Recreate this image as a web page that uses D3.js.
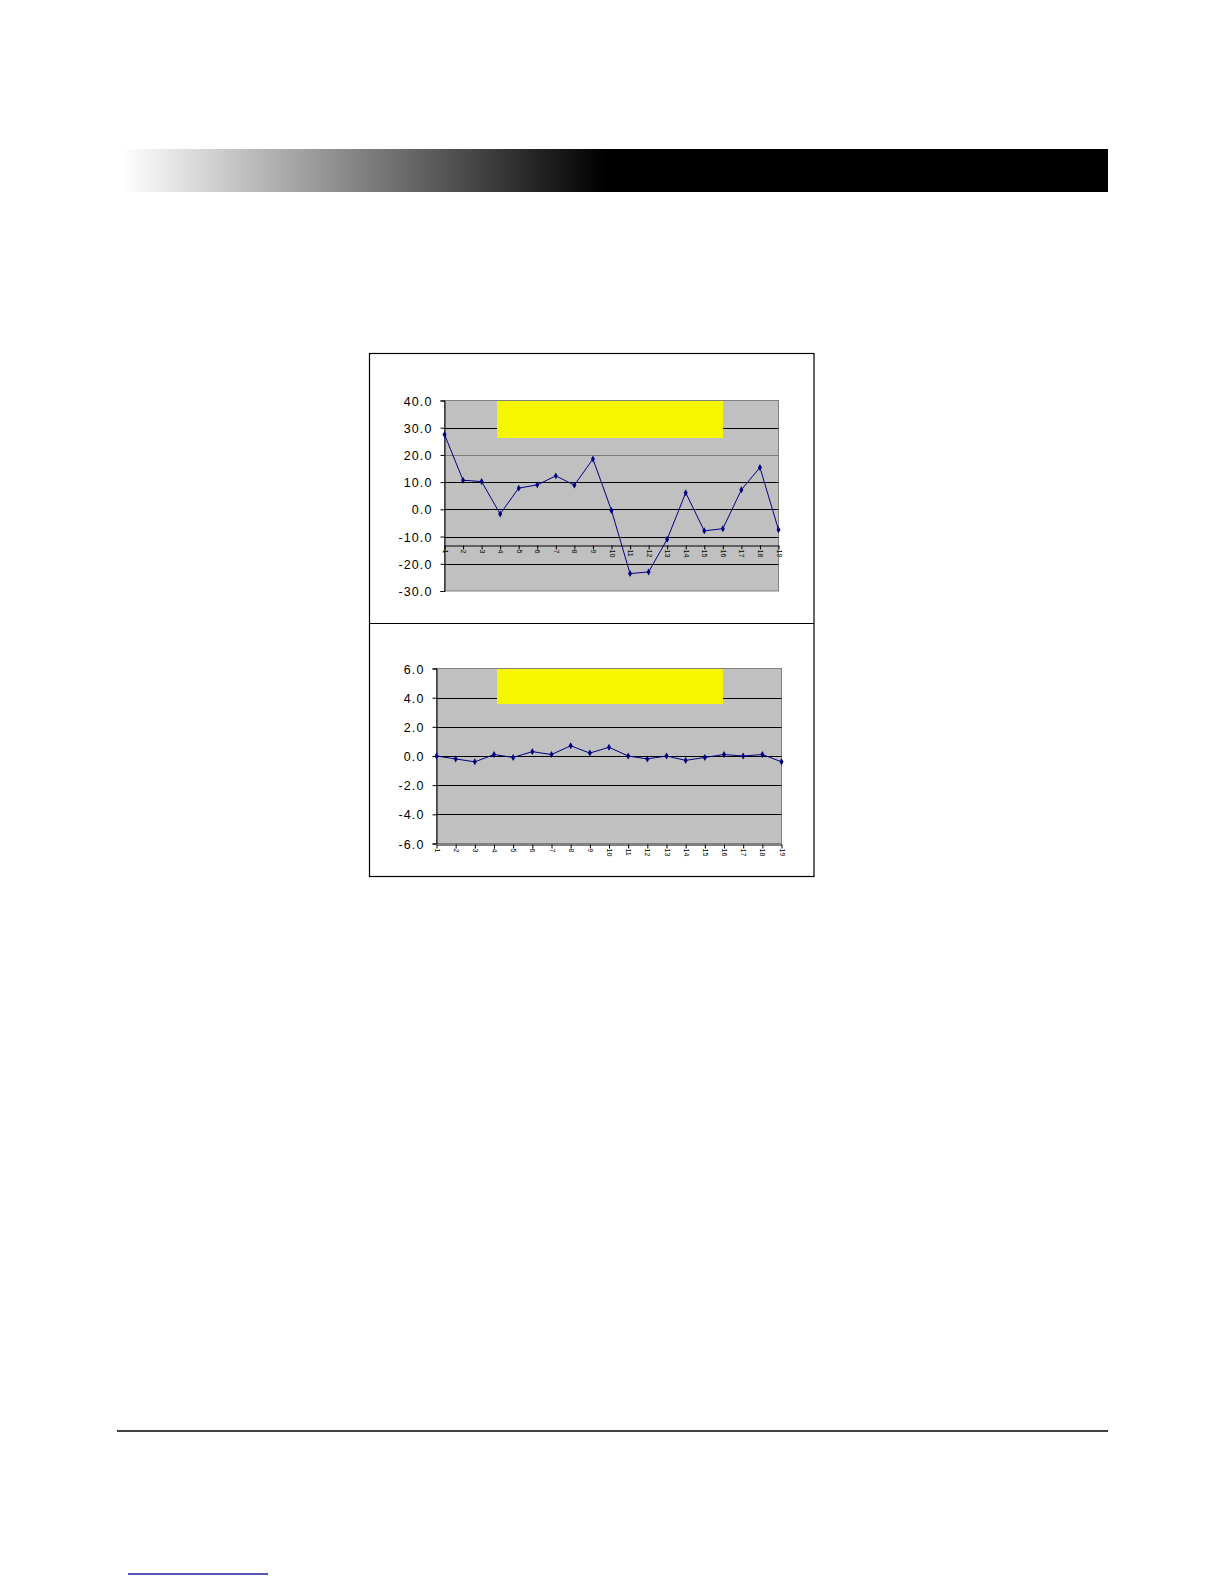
<!DOCTYPE html>
<html>
<head>
<meta charset="utf-8">
<script src="https://cdn.jsdelivr.net/npm/d3@7"></script>
<style>
  body { margin: 0; background: #fff; }
  svg { display: block; }
  .axis text { font-family: "Liberation Sans", Arial, sans-serif; fill: #000; }
</style>
</head>
<body>
<svg id="page" width="1224" height="1584"></svg>
<script>
// values
const categories = ['1','2','3','4','5','6','7','8','9','10','11','12','13','14','15','16','17','18','19']
const deviation = [27.5, 10.7, 10.2, -1.7, 7.8, 9.0, 12.3, 8.9, 18.5, -0.4, -23.6, -23.0, -11.0, 6.1, -7.9, -7.1, 7.2, 15.4, -7.5]
const residual = [0.0, -0.2, -0.4, 0.1, -0.1, 0.3, 0.1, 0.7, 0.2, 0.6, 0.0, -0.2, 0.0, -0.3, -0.1, 0.1, 0.0, 0.1, -0.4]
const topTicks = [40, 30, 20, 10, 0, -10, -20, -30]
const bottomTicks = [6, 4, 2, 0, -2, -4, -6]
// where the category axis crosses the value axis
const topCross = -13.2
const bottomCross = -6

const svg = d3.select('#page')

// header bar, white fading into black
const defs = svg.append('defs')
const grad = defs.append('linearGradient')
  .attr('id', 'header-fade')
  .attr('x1', '0%').attr('x2', '100%')
grad.append('stop').attr('offset', '0%').attr('stop-color', '#ffffff')
grad.append('stop').attr('offset', '4%').attr('stop-color', '#ececec')
grad.append('stop').attr('offset', '49%').attr('stop-color', '#000000')
grad.append('stop').attr('offset', '100%').attr('stop-color', '#000000')

svg.append('rect')
  .attr('x', 121).attr('y', 149)
  .attr('width', 987).attr('height', 43)
  .attr('fill', 'url(#header-fade)')

// frame round both charts
svg.append('rect')
  .attr('x', 369.5).attr('y', 353.5)
  .attr('width', 444.5).attr('height', 523)
  .attr('fill', 'none').attr('stroke', '#000').attr('stroke-width', 1.2)
svg.append('line')
  .attr('x1', 369.5).attr('x2', 814)
  .attr('y1', 623.5).attr('y2', 623.5)
  .attr('stroke', '#000').attr('stroke-width', 1.2)

function drawPanel({values, ticks, cross, left, right, top, bottom, yellow, greyLines}) {
  const g = svg.append('g')

  const x = d3.scalePoint()
    .domain(categories)
    .range([left, right])

  const y = d3.scaleLinear()
    .domain([d3.min(ticks), d3.max(ticks)])
    .range([bottom, top])

  // plot area
  g.append('rect')
    .attr('x', left).attr('y', top)
    .attr('width', right - left).attr('height', bottom - top)
    .attr('fill', '#c0c0c0')
    .attr('stroke', '#808080').attr('stroke-width', 1)

  // gridlines
  g.selectAll('.grid')
    .data(ticks.filter(t => t !== d3.min(ticks) && t !== d3.max(ticks)))
    .enter()
    .append('line')
    .attr('x1', left).attr('x2', right)
    .attr('y1', d => Math.round(y(d)) + 0.5)
    .attr('y2', d => Math.round(y(d)) + 0.5)
    .attr('stroke', d => greyLines.includes(d) ? '#7a7a7a' : '#000')
    .attr('stroke-width', 1)

  // yellow label box (text blanked out)
  g.append('rect')
    .attr('x', yellow[0]).attr('y', top + 0.5)
    .attr('width', yellow[1] - yellow[0]).attr('height', yellow[2])
    .attr('fill', '#f6f600')

  // value axis
  const yAxis = d3.axisLeft(y)
    .tickValues(ticks)
    .tickFormat(d => d.toFixed(1))
    .tickSize(4)
    .tickPadding(8)
  g.append('g')
    .attr('class', 'axis')
    .attr('transform', `translate(${left},0)`)
    .call(yAxis)
    .call(a => a.select('.domain').attr('stroke', '#000'))
    .call(a => a.selectAll('text')
      .attr('font-size', 12.5)
      .attr('letter-spacing', 1.1)
      .attr('dy', '0.36em'))

  // category axis
  const xAxis = d3.axisBottom(x)
    .tickSize(4)
    .tickSizeOuter(0)
  g.append('g')
    .attr('class', 'axis')
    .attr('transform', `translate(0,${Math.round(y(cross)) + 0.5})`)
    .call(xAxis)
    .call(a => a.select('.domain').attr('stroke', '#000'))
    .call(a => a.selectAll('text')
      .attr('font-size', 7)
      .attr('transform', 'rotate(90)')
      .attr('text-anchor', 'start')
      .attr('x', 4)
      .attr('y', 0)
      .attr('dy', '0.35em'))

  // data line
  const line = d3.line()
    .x((d, i) => x(categories[i]))
    .y(d => y(d))
  g.append('path')
    .datum(values)
    .attr('d', line)
    .attr('fill', 'none')
    .attr('stroke', '#000080')
    .attr('stroke-width', 1)

  g.selectAll('.marker')
    .data(values)
    .enter()
    .append('path')
    .attr('d', d3.symbol(d3.symbolDiamond, 14))
    .attr('transform', (d, i) => `translate(${x(categories[i])},${y(d)})`)
    .attr('fill', '#000080')
}

drawPanel({
  values: deviation, ticks: topTicks, cross: topCross,
  left: 444.5, right: 778.5, top: 400.5, bottom: 591,
  yellow: [497, 723, 37], greyLines: [20]
})

drawPanel({
  values: residual, ticks: bottomTicks, cross: bottomCross,
  left: 436.5, right: 781.5, top: 668.5, bottom: 843.5,
  yellow: [497, 723, 35], greyLines: []
})

// footer rule and empty link underline
svg.append('line')
  .attr('x1', 117).attr('x2', 1108)
  .attr('y1', 1431).attr('y2', 1431)
  .attr('stroke', '#000').attr('stroke-width', 1.5)
svg.append('line')
  .attr('x1', 128).attr('x2', 268)
  .attr('y1', 1574).attr('y2', 1574)
  .attr('stroke', '#1c1c9c').attr('stroke-width', 1.5)
</script>
</body>
</html>
